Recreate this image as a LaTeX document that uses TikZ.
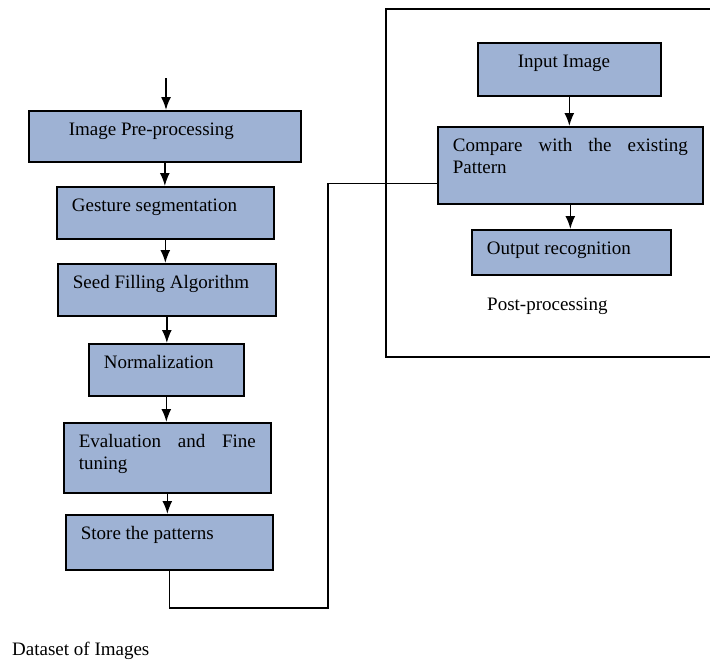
\documentclass[tikz,border=0pt]{standalone}
\usepackage{fontspec}
\setmainfont{Liberation Serif}
\usetikzlibrary{arrows.meta}
\definecolor{boxfill}{RGB}{158,178,212}
\hyphenpenalty=10000

\begin{document}
\begin{tikzpicture}[x=1pt, y=-1pt,
    font=\fontsize{19}{22}\selectfont,
    stage/.style 2 args={draw, fill=boxfill, line width=1.7pt, anchor=north west,
        inner xsep=15pt, inner ysep=10pt, text width=#1, text height=15pt,
        text depth=#2, align=justify},
    flow/.style={-{Latex[length=13pt,width=10pt]}, line width=1.7pt},
    link/.style={line width=1.1pt},
    caption/.style={anchor=base west, inner sep=0pt}]
    \useasboundingbox (0,0) rectangle (710,662);

    % Training chain
    \coordinate (start) at (166,78);
    \node[stage={242pt}{16pt}] (prep) at (28,110) {\hspace*{25pt}Image Pre-processing};
    \node[stage={187pt}{17pt}] (segm) at (56,186) {Gesture segmentation};
    \node[stage={188pt}{17pt}] (seed) at (57,263) {Seed Filling Algorithm};
    \node[stage={125pt}{17pt}] (norm) at (88,343) {Normalization};
    \node[stage={177pt}{35pt}] (eval) at (63,422) {Evaluation and Fine tuning};
    \node[stage={177pt}{20pt}] (store) at (65,514) {Store the patterns};

    \draw[flow] (start) -- (start |- prep.north);
    \draw[flow] (prep.south) -- (prep.south |- segm.north);
    \draw[flow] (segm.south) -- (segm.south |- seed.north);
    \draw[flow] (seed.south) -- (seed.south |- norm.north);
    \draw[flow] (norm.south) -- (norm.south |- eval.north);
    \draw[flow] (eval.south) -- (eval.south |- store.north);

    \node[caption] (dataset) at (12,655) {Dataset of Images};

    % Recognition frame (open on the right)
    \draw[line width=1.5pt] (710,9) -- (386,9) -- (386,357) -- (710,357);

    \node[stage={153pt}{18pt}] (input) at (477,42) {\hspace*{25pt}Input Image};
    \node[stage={235pt}{42pt}] (compare) at (437,126) {Compare with the existing Pattern};
    \node[stage={169pt}{10pt}] (output) at (471,229) {Output recognition};

    \draw[flow] (input.south) -- (input.south |- compare.north);
    \draw[flow] (compare.south) -- (compare.south |- output.north);

    \node[caption] (post) at (487,310) {Post-processing};

    % Stored patterns feed the comparison
    \coordinate (turn) at (328,608);
    \coordinate (entry) at ([yshift=-18.5pt]compare.west);
    \draw[link] (store.south) |- (turn) |- (entry);
\end{tikzpicture}
\end{document}
